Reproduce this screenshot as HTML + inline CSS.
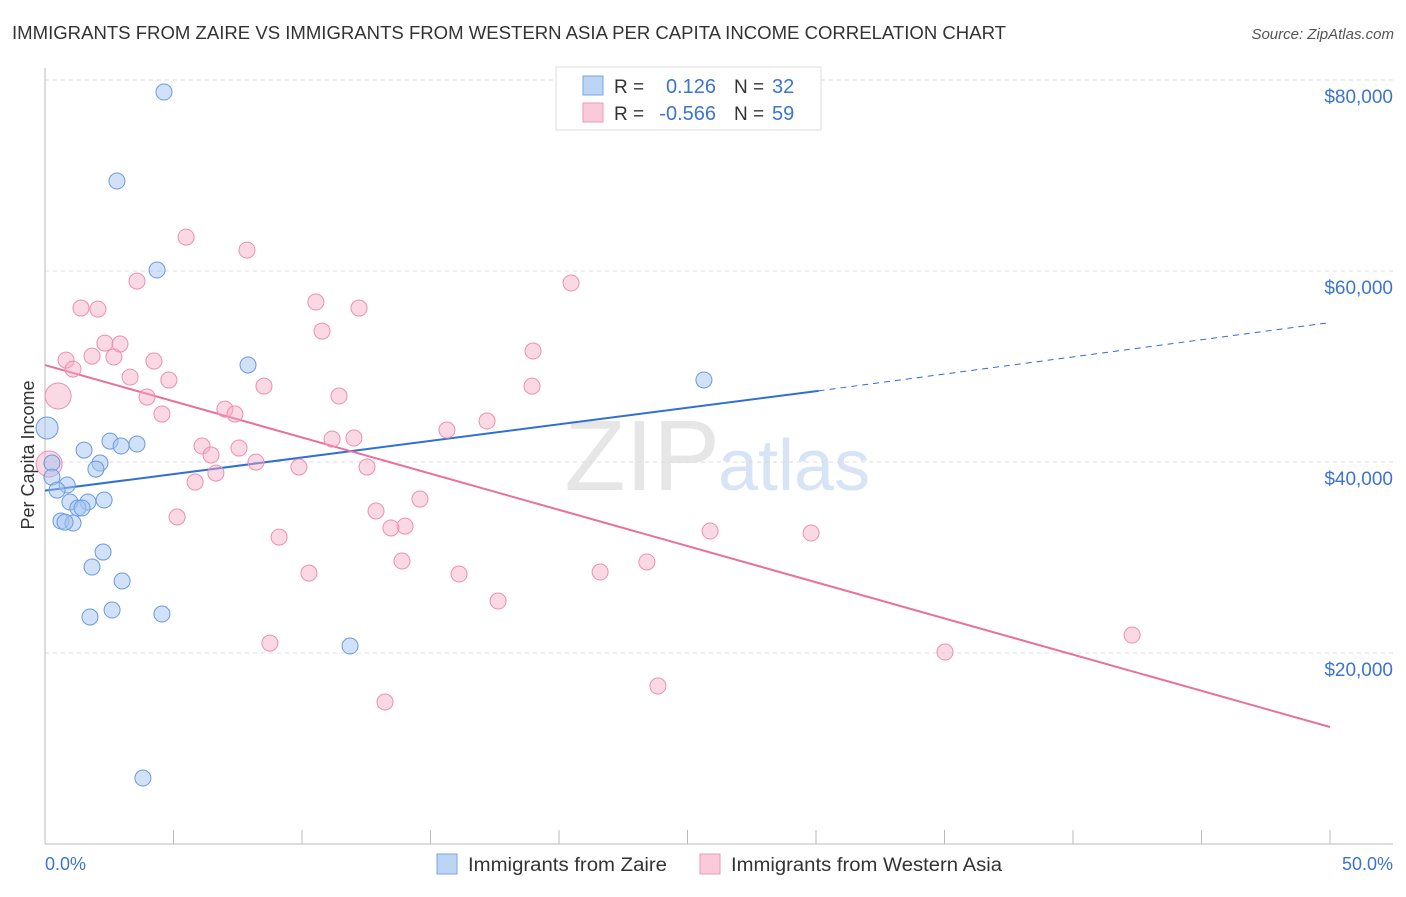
<!DOCTYPE html>
<html><head><meta charset="utf-8"><style>
body{margin:0;background:#fff;font-family:"Liberation Sans",sans-serif;}
svg text{font-family:"Liberation Sans",sans-serif;}
</style></head><body>
<svg id="chart" width="1406" height="892" xmlns="http://www.w3.org/2000/svg">
<text x="12" y="39" font-size="18" fill="#333" textLength="994" lengthAdjust="spacingAndGlyphs">IMMIGRANTS FROM ZAIRE VS IMMIGRANTS FROM WESTERN ASIA PER CAPITA INCOME CORRELATION CHART</text>
<text x="1394" y="39" font-size="15" fill="#555" font-style="italic" text-anchor="end">Source: ZipAtlas.com</text>
<text x="720" y="490" font-size="100" fill="#e6e6e6" font-family="Liberation Serif" text-anchor="end">ZIP</text>
<text x="718" y="490" font-size="72" fill="#d6e4f5">atlas</text>
<g id="grid"></g><g id="axes"></g><g id="trends"></g><g id="points"></g>
<text x="34" y="455" font-size="18" fill="#333" transform="rotate(-90 34 455)" text-anchor="middle">Per Capita Income</text>
<text x="45" y="870" font-size="18" fill="#3b75d1">0.0%</text>
<text x="1393" y="870" font-size="18" fill="#3b75d1" text-anchor="end">50.0%</text>
<g>
<rect x="556" y="67" width="265" height="63" fill="#fff" stroke="#ddd"/>
<rect x="583" y="76" width="20" height="19" fill="#bcd5f5" stroke="#7aa6e6"/>
<rect x="583" y="103" width="20" height="19" fill="#fbcada" stroke="#ee9ab6"/>
<text x="614" y="93" font-size="19" fill="#333">R =</text><text x="716" y="93" font-size="20" fill="#3b75d1" text-anchor="end">0.126</text>
<text x="734" y="93" font-size="19" fill="#333">N =</text><text x="772" y="93" font-size="20" fill="#3b75d1">32</text>
<text x="614" y="120" font-size="19" fill="#333">R =</text><text x="716" y="120" font-size="20" fill="#3b75d1" text-anchor="end">-0.566</text>
<text x="734" y="120" font-size="19" fill="#333">N =</text><text x="772" y="120" font-size="20" fill="#3b75d1">59</text>
</g>
<g>
<rect x="437" y="854" width="20" height="20" fill="#bcd5f5" stroke="#7aa6e6"/>
<text x="468" y="871" font-size="19" fill="#333" textLength="199" lengthAdjust="spacingAndGlyphs">Immigrants from Zaire</text>
<rect x="700" y="854" width="20" height="20" fill="#fbcada" stroke="#ee9ab6"/>
<text x="731" y="871" font-size="19" fill="#333" textLength="271" lengthAdjust="spacingAndGlyphs">Immigrants from Western Asia</text>
</g>
</svg>
<script>
const yTicks=[20000,40000,60000,80000];
const yTickLabels=["$20,000","$40,000","$60,000","$80,000"];
const xTicks=[0,5,10,15,20,25,30,35,40,45,50];
const blueX=[4.63,2.80,4.36,7.90,25.64,0.08,2.53,1.52,3.58,2.96,2.14,1.98,0.27,0.27,0.86,0.47,0.97,1.67,2.30,1.28,1.44,0.62,1.09,2.26,1.83,3.00,2.61,1.75,4.55,11.87,3.81,0.78];
const blueY=[78740,69420,60100,50160,48590,43560,42190,41250,41880,41670,39890,39260,39890,38420,37590,37060,35810,35810,36020,35180,35180,33820,33610,30570,29000,27540,24500,23770,24080,20730,6910,33700];
const pinkX=[5.49,7.86,3.58,20.47,1.40,2.06,10.54,12.22,10.78,18.99,2.33,2.92,0.82,1.83,2.68,4.24,1.09,3.31,4.82,8.52,18.95,3.97,11.44,0.51,4.55,7.00,7.39,17.20,15.64,11.17,12.02,6.11,7.55,6.46,8.21,0.16,9.88,12.53,6.65,5.84,14.59,12.88,5.14,14.01,13.46,25.88,29.81,9.11,13.89,23.42,10.27,16.11,21.60,17.63,42.30,8.75,35.02,23.85,13.23];
const pinkY=[63550,62190,58940,58740,56120,56010,56750,56120,53710,51620,52450,52350,50670,51090,50990,50570,49730,48890,48580,47950,47950,46800,46910,46910,45020,45540,45020,44290,43350,42400,42510,41670,41460,40730,39990,39790,39470,39470,38840,37900,36120,34870,34240,33290,33090,32770,32560,32140,29630,29530,28370,28270,28480,25440,21880,21040,20100,16540,14870];
const bigPink=[23,35];
const blueTrend=[[0,37000],[30.1,47450],[50,54600]];
const pinkTrend=[[0,50150],[50,12250]];
const NS="http://www.w3.org/2000/svg";
const X=v=>45+v/50*1285, Y=v=>844-v/20000*191;
function mk(p,tag,a){const e=document.createElementNS(NS,tag);for(const k in a)e.setAttribute(k,a[k]);p.appendChild(e);return e;}
const grid=document.getElementById('grid'),axes=document.getElementById('axes'),tr=document.getElementById('trends'),pts=document.getElementById('points');
yTicks.forEach((t,i)=>{
 const l=mk(grid,'line',{x1:45,x2:1393,y1:Y(t),y2:Y(t),stroke:'#ddd','stroke-dasharray':'4,4'});
 
 
 const tx=mk(grid,'text',{x:1393,y:Y(t)+23,'font-size':19,fill:'#3b75d1','text-anchor':'end'});tx.textContent=yTickLabels[i];
 
 
});
const ya=mk(axes,'line',{x1:45,x2:45,y1:68,y2:844,stroke:'#bbb'});


const xa=mk(axes,'line',{x1:45,x2:1393,y1:844,y2:844,stroke:'#bbb'});


xTicks.forEach(t=>{const l=mk(axes,'line',{x1:X(t),x2:X(t),y1:830,y2:844,stroke:'#bbb'});
 
 });
const b1=mk(tr,'line',{x1:X(blueTrend[0][0]),y1:Y(blueTrend[0][1]),x2:X(blueTrend[1][0]),y2:Y(blueTrend[1][1]),stroke:'#2f6fd6','stroke-width':2});


const b2=mk(tr,'line',{x1:X(blueTrend[1][0]),y1:Y(blueTrend[1][1]),x2:X(blueTrend[2][0]),y2:Y(blueTrend[2][1]),stroke:'#2f6fd6','stroke-width':1,'stroke-dasharray':'6,5'});


const p1=mk(tr,'line',{x1:X(pinkTrend[0][0]),y1:Y(pinkTrend[0][1]),x2:X(pinkTrend[1][0]),y2:Y(pinkTrend[1][1]),stroke:'#e8709a','stroke-width':2});


pinkX.forEach((x,i)=>{const c=mk(pts,'circle',{cx:X(x),cy:Y(pinkY[i]),r:bigPink.includes(i)?13:8,fill:'rgba(246,170,196,0.45)',stroke:'#ec90ae','stroke-width':1});
 
 });
blueX.forEach((x,i)=>{const c=mk(pts,'circle',{cx:X(x),cy:Y(blueY[i]),r:i==5?11:8,fill:'rgba(164,196,240,0.5)',stroke:'#6a9be0','stroke-width':1});
 
 });
</script>
</body></html>
